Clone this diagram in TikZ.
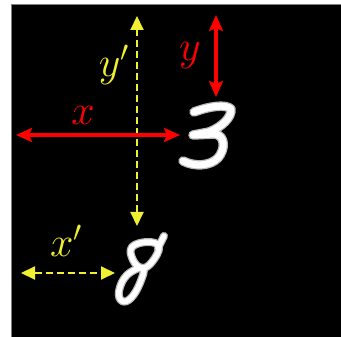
\RequirePackage{fix-cm}
\documentclass[tikz,border=0pt]{standalone}
\usetikzlibrary{arrows.meta}
\definecolor{yel}{RGB}{240,240,50}
\definecolor{rd}{RGB}{255,0,0}
\begin{document}
\begin{tikzpicture}[x=1pt,y=-1pt,
  redarrow/.style={draw=rd,line width=4pt,{Stealth[length=16pt,width=14pt,inset=3pt]}-{Stealth[length=16pt,width=14pt,inset=3pt]}},
  yelarrow/.style={draw=yel,line width=2pt,dash pattern=on 7pt off 4pt,{Triangle[length=14pt,width=13pt]}-{Triangle[length=14pt,width=13pt]}},
  lbl/.style={inner sep=0pt,anchor=base,font=\fontsize{42}{42}\selectfont},
  halo/.style={draw=gray!55,line cap=round,line join=round},
  digit/.style={draw=white,line cap=round,line join=round}]
\useasboundingbox (0,0) rectangle (341,337);
\fill[white] (0,0) rectangle (341,337);
\fill[black] (11.5,4.5) rectangle (341,337);
\draw[gray,line width=0.8pt] (11.5,337) -- (11.5,4.5) -- (341,4.5);
% digit 3
\foreach \s/\w in {halo/9.5pt,digit/7pt}{
  \draw[\s,line width=\w] (194,112) .. controls (210,106) and (226,104) .. (231,109)
     .. controls (232,117) and (222,127) .. (209,132) -- (193,135) -- (215,134)
     .. controls (226,136) and (225,150) .. (218,158)
     .. controls (210,166) and (195,167) .. (183,161);
}
% digit 8
\foreach \s/\w in {halo/8pt,digit/5.5pt}{
  \draw[\s,line width=\w] plot[smooth cycle,tension=0.7] coordinates {(132,247) (148,242) (159,247) (152,262) (142,268) (133,260)};
  \draw[\s,line width=\w] (158,248) -- (164,236);
  \draw[\s,line width=\w] plot[smooth cycle,tension=0.7] coordinates {(143,268) (140,283) (131,298) (122,301) (119,291) (127,275)};
}
% arrow endpoints
\coordinate (xl) at (16,135);
\coordinate (xr) at (180,135);
\coordinate (yt) at (216,15);
\coordinate (yb) at (216,97);
\coordinate (ypt) at (137,16);
\coordinate (ypb) at (137,226);
\coordinate (xpl) at (21,273);
\coordinate (xpr) at (115,273);
\draw[yelarrow] (ypt) -- (ypb);
\draw[yelarrow] (xpl) -- (xpr);
\draw[redarrow] (xl) -- (xr);
\draw[redarrow] (yt) -- (yb);
% labels
\node[lbl,text=rd] (lx) at (83,125) {$x$};
\node[lbl,text=rd] (ly) at (190,61) {$y$};
\node[lbl,text=yel] (lyp) at (114,77) {$y'$};
\node[lbl,text=yel] (lxp) at (66,257) {$x'$};
\end{tikzpicture}
\end{document}
